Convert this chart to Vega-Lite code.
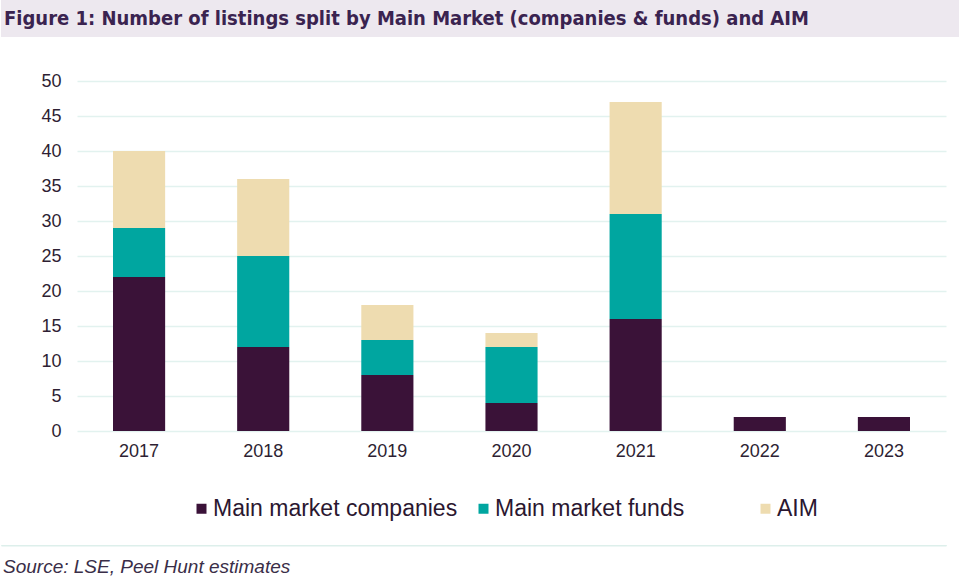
{
  "$schema": "https://vega.github.io/schema/vega-lite/v6.json",
  "padding": 0,
  "background": "white",
  "bounds": "flush",
  "spacing": 44,
  "config": {
    "view": {"stroke": null},
    "font": "Liberation Sans"
  },
  "vconcat": [
    {
      "width": 958,
      "height": 37,
      "view": {"fill": "#EDE8EF", "stroke": null},
      "data": {"values": [{"t": "Figure 1: Number of listings split by Main Market (companies & funds) and AIM"}]},
      "mark": {
        "type": "text",
        "align": "left",
        "baseline": "middle",
        "dx": 3,
        "font": "Liberation Sans Narrow, DejaVu Sans Condensed, sans-serif",
        "fontWeight": "bold",
        "fontSize": 20,
        "color": "#3A2350"
      },
      "encoding": {
        "x": {"datum": 0, "type": "quantitative", "scale": {"domain": [0, 1]}, "axis": null},
        "text": {"field": "t"}
      }
    },
    {
      "bounds": "flush",
      "spacing": 114,
      "vconcat": [
        {
          "width": 945,
          "height": 350,
          "data": {
            "values": [
              {"year": "2017", "series": "Main market companies", "k": 1, "listings": 22},
              {"year": "2017", "series": "Main market funds", "k": 2, "listings": 7},
              {"year": "2017", "series": "AIM", "k": 3, "listings": 11},
              {"year": "2018", "series": "Main market companies", "k": 1, "listings": 12},
              {"year": "2018", "series": "Main market funds", "k": 2, "listings": 13},
              {"year": "2018", "series": "AIM", "k": 3, "listings": 11},
              {"year": "2019", "series": "Main market companies", "k": 1, "listings": 8},
              {"year": "2019", "series": "Main market funds", "k": 2, "listings": 5},
              {"year": "2019", "series": "AIM", "k": 3, "listings": 5},
              {"year": "2020", "series": "Main market companies", "k": 1, "listings": 4},
              {"year": "2020", "series": "Main market funds", "k": 2, "listings": 8},
              {"year": "2020", "series": "AIM", "k": 3, "listings": 2},
              {"year": "2021", "series": "Main market companies", "k": 1, "listings": 16},
              {"year": "2021", "series": "Main market funds", "k": 2, "listings": 15},
              {"year": "2021", "series": "AIM", "k": 3, "listings": 16},
              {"year": "2022", "series": "Main market companies", "k": 1, "listings": 2},
              {"year": "2023", "series": "Main market companies", "k": 1, "listings": 2}
            ]
          },
          "mark": {"type": "bar"},
          "encoding": {
            "x": {
              "field": "year",
              "type": "ordinal",
              "scale": {"range": [76, 945], "paddingInner": 0.58, "paddingOuter": 0.29},
              "axis": {
                "title": null,
                "labelAngle": 0,
                "domain": false,
                "ticks": false,
                "grid": false,
                "labelPadding": 11,
                "labelFontSize": 18,
                "labelColor": "#2E1F33"
              }
            },
            "y": {
              "field": "listings",
              "type": "quantitative",
              "aggregate": "sum",
              "stack": "zero",
              "scale": {"domain": [0, 50]},
              "axis": {
                "title": null,
                "values": [0, 5, 10, 15, 20, 25, 30, 35, 40, 45, 50],
                "offset": -76,
                "domain": false,
                "ticks": false,
                "labelPadding": 16,
                "labelFontSize": 18,
                "labelColor": "#2E1F33",
                "gridColor": "#E2F2EF",
                "gridWidth": 1.5
              }
            },
            "order": {"field": "k", "type": "quantitative", "sort": "ascending"},
            "color": {
              "field": "series",
              "type": "nominal",
              "scale": {
                "domain": ["Main market companies", "Main market funds", "AIM"],
                "range": ["#3A1238", "#00A6A0", "#EEDCB0"]
              },
              "legend": {
                "title": null,
                "orient": "none",
                "direction": "horizontal",
                "legendX": 189,
                "legendY": 497,
                "padding": 0,
                "gridAlign": "all",
                "columnPadding": 14,
                "symbolType": "square",
                "symbolSize": 100,
                "symbolStrokeWidth": 0,
                "symbolOpacity": 1,
                "labelOffset": 0,
                "labelFontSize": 23,
                "labelColor": "#2B1730",
                "labelLimit": 400
              }
            }
          }
        },
        {
          "width": 945,
          "height": 0.5,
          "view": {"stroke": "#DDEFEB", "strokeWidth": 1, "fill": null},
          "title": {
            "text": "Source: LSE, Peel Hunt estimates",
            "orient": "bottom",
            "anchor": "start",
            "frame": "group",
            "baseline": "top",
            "offset": 12,
            "dx": 2,
            "font": "Liberation Sans",
            "fontSize": 19,
            "fontStyle": "italic",
            "fontWeight": "normal",
            "color": "#3A2E48"
          },
          "data": {"values": []},
          "mark": {"type": "text"},
          "encoding": {}
        }
      ]
    }
  ]
}
